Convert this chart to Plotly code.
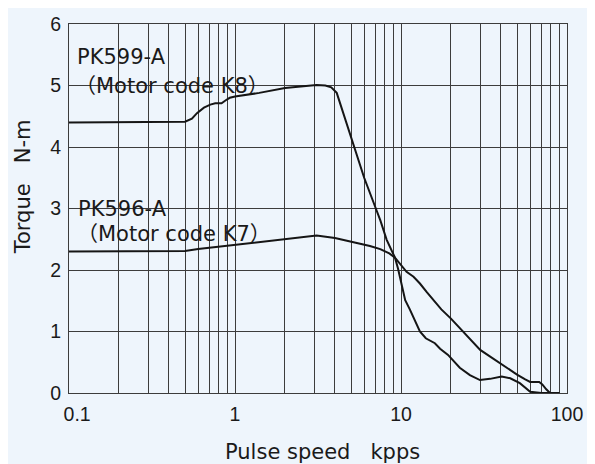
import plotly.graph_objects as go

# PK599-A (Motor code K8)
k8_speed = [0.1, 0.3, 0.5, 0.55, 0.59, 0.65, 0.71, 0.76, 0.83, 0.88, 0.93, 1.0, 1.4, 2.0, 2.5,
            3.1, 3.5, 3.8, 4.1, 5.0, 6.0, 7.1, 7.5, 8.2, 9.2, 9.6, 10.6, 11.3, 12.3, 13.0,
            14.1, 16.0, 17.2, 19.2, 22.6, 26.0, 29.9, 34.4, 40.4, 45.5, 52.0, 60.0, 70.0, 90.0]
k8_torque = [4.40, 4.40, 4.41, 4.46, 4.55, 4.64, 4.69, 4.71, 4.71, 4.76, 4.80, 4.82, 4.88, 4.96, 4.99,
             5.01, 5.00, 4.97, 4.88, 4.15, 3.50, 2.98, 2.81, 2.49, 2.20, 2.02, 1.51, 1.36, 1.15, 1.00,
             0.89, 0.81, 0.72, 0.62, 0.41, 0.29, 0.21, 0.23, 0.27, 0.24, 0.16, 0.02, 0.0, 0.0]

# PK596-A (Motor code K7)
k7_speed = [0.1, 0.3, 0.5, 0.6, 0.8, 1.0, 1.4, 1.9, 2.5, 3.1, 4.0, 4.7, 5.5, 6.5, 7.5, 8.5,
            9.2, 10.0, 10.8, 11.9, 13.0, 14.3, 15.6, 17.5, 20.0, 22.0, 23.8, 27.0, 30.0, 35.0,
            40.0, 45.0, 50.0, 56.0, 60.0, 68.0, 71.0, 75.0, 79.0, 90.0]
k7_torque = [2.30, 2.30, 2.31, 2.34, 2.38, 2.41, 2.46, 2.50, 2.53, 2.56, 2.52, 2.48, 2.44, 2.39, 2.34, 2.27,
             2.20, 2.09, 1.97, 1.89, 1.78, 1.64, 1.52, 1.36, 1.21, 1.09, 1.00, 0.84, 0.70, 0.58,
             0.47, 0.38, 0.30, 0.22, 0.18, 0.18, 0.14, 0.06, 0.0, 0.0]

x_grid_vals = [0.1, 0.2, 0.3, 0.4, 0.5, 0.6, 0.7, 0.8, 0.9,
               1, 2, 3, 4, 5, 6, 7, 8, 9,
               10, 20, 30, 40, 50, 60, 70, 80, 90, 100]
x_major_labels = {0.1: "\u00a0\u00a0\u00a00.1", 1: "1", 10: "10", 100: "100"}
y_ticks = [0, 1, 2, 3, 4, 5, 6]

BG = "#eef5fc"
LINE = "#151515"
GRID = "#3c3c3c"
TXT = "DejaVu Sans, Noto Sans CJK JP"

fig = go.Figure()
fig.add_trace(go.Scatter(x=k8_speed, y=k8_torque, mode="lines",
                         line=dict(color=LINE, width=2), showlegend=False))
fig.add_trace(go.Scatter(x=k7_speed, y=k7_torque, mode="lines",
                         line=dict(color=LINE, width=2), showlegend=False))

fig.update_layout(
    width=587, height=456,
    margin=dict(l=61, r=28, t=16, b=71),
    paper_bgcolor=BG, plot_bgcolor=BG,
    font=dict(family="Liberation Sans, Arial", size=19, color="#1a1a1a"),
)
fig.update_xaxes(
    type="log", range=[-1, 2], automargin=False,
    tickmode="array", tickvals=x_grid_vals,
    ticktext=[x_major_labels.get(v, "") for v in x_grid_vals],
    ticks="outside", ticklen=4, tickcolor="rgba(0,0,0,0)",
    showgrid=True, gridcolor=GRID, gridwidth=1,
    showline=True, linecolor=GRID, linewidth=1, mirror=True,
    zeroline=False, tickfont=dict(family="Liberation Sans, Arial", size=19.5, color="#1a1a1a"),
)
fig.update_yaxes(
    range=[0, 6], automargin=False, tickmode="array", tickvals=y_ticks,
    ticks="outside", ticklen=3, tickcolor="rgba(0,0,0,0)",
    showgrid=True, gridcolor=GRID, gridwidth=1,
    showline=True, linecolor=GRID, linewidth=1, mirror=True,
    zeroline=False, tickfont=dict(family="Liberation Sans, Arial", size=19.5, color="#1a1a1a"),
)

label_font = dict(family=TXT, size=21, color="#1a1a1a")
annos = [
    dict(text="PK599-A", x=0.012, y=5.46),
    dict(text="\uff08Motor code K8\uff09", x=0.008, y=5.0),
    dict(text="PK596-A", x=0.014, y=3.0),
    dict(text="\uff08Motor code K7\uff09", x=0.012, y=2.58),
]
for a in annos:
    fig.add_annotation(text=a["text"], x=a["x"], y=a["y"], xref="paper", yref="y",
                       xanchor="left", yanchor="middle", showarrow=False, font=label_font)

fig.add_annotation(text="Pulse speed\u00a0\u00a0\u00a0kpps", x=0.51, y=-0.16,
                   xref="paper", yref="paper", xanchor="center", yanchor="middle",
                   showarrow=False, font=dict(family=TXT, size=21, color="#1a1a1a"))
fig.add_annotation(text="Torque\u00a0\u00a0\u00a0N-m", x=-0.092, y=0.558,
                   xref="paper", yref="paper", xanchor="center", yanchor="middle",
                   textangle=-90, showarrow=False, font=dict(family=TXT, size=21, color="#1a1a1a"))

fig.write_html("out.html")
